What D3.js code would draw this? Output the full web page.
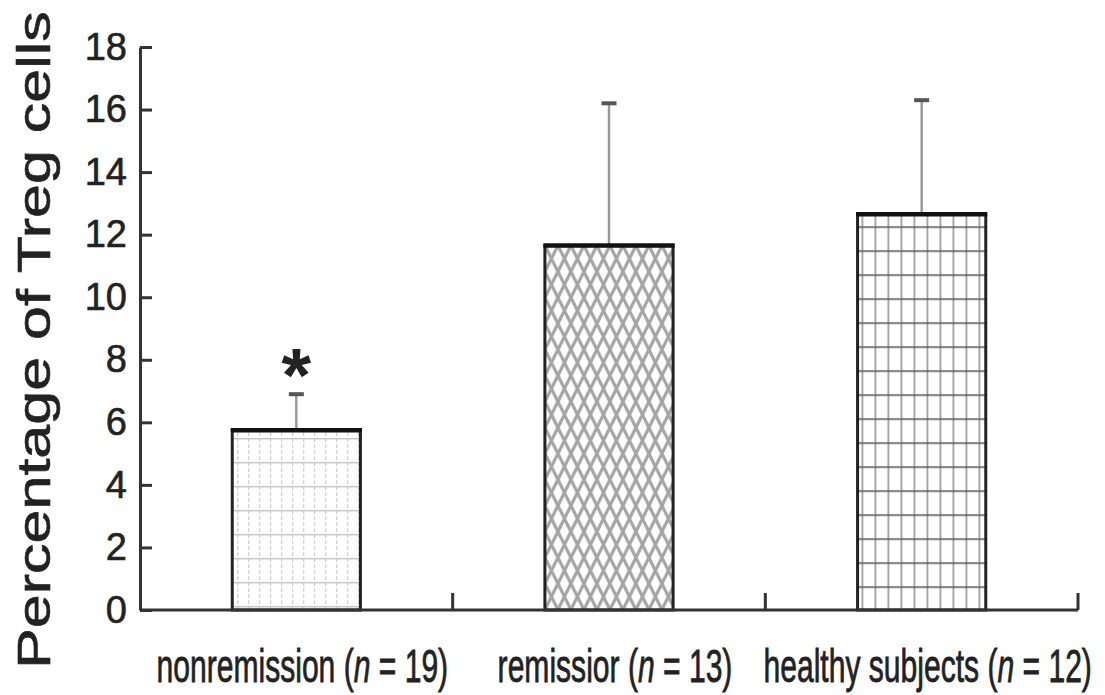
<!DOCTYPE html>
<html>
<head>
<meta charset="utf-8">
<script src="https://cdn.jsdelivr.net/npm/d3@7"></script>
<style>
  body { margin: 0; background: #fff; }
  text { font-family: "Liberation Sans", Arial, sans-serif; fill: #222; }
</style>
</head>
<body>
<script>
// values
const groups = ["nonremission", "remissior", "healthy subjects"];
const counts = [19, 13, 12];
const means = [5.75, 11.65, 12.65];
const sds = [1.15, 4.55, 3.65];
const marks = ["*", "", ""];
const yTicks = [0, 2, 4, 6, 8, 10, 12, 14, 16, 18];
const yLabel = "Percentage of Treg cells";

const width = 1105, height = 695;
const margin = {top: 47, right: 27, bottom: 85, left: 140};

const data = groups.map((g, i) => ({group: g, n: counts[i], mean: means[i], sd: sds[i], mark: marks[i], i}));

const x = d3.scaleBand(groups, [margin.left, width - margin.right])
    .paddingInner(0.59)
    .paddingOuter(0.295);
const y = d3.scaleLinear([0, 18], [height - margin.bottom, margin.top]);

const svg = d3.select("body").append("svg")
    .attr("width", width)
    .attr("height", height);

// fill patterns, one per bar
const defs = svg.append("defs");

const p0 = defs.append("pattern")
    .attr("id", "pat0")
    .attr("patternUnits", "userSpaceOnUse")
    .attr("width", 11).attr("height", 24)
    .attr("x", x(groups[0]) + 5).attr("y", y(means[0]) + 8);
p0.append("rect").attr("width", 11).attr("height", 24).attr("fill", "#fff");
p0.append("line").attr("x1", 0).attr("x2", 0).attr("y1", 0).attr("y2", 24)
    .attr("stroke", "#c4c4c4").attr("stroke-width", 2).attr("stroke-dasharray", "4 2");
p0.append("line").attr("x1", 0).attr("x2", 11).attr("y1", 0).attr("y2", 0)
    .attr("stroke", "#bdbdbd").attr("stroke-width", 2.5);

const p1 = defs.append("pattern")
    .attr("id", "pat1")
    .attr("patternUnits", "userSpaceOnUse")
    .attr("width", 13).attr("height", 26)
    .attr("x", x(groups[1])).attr("y", y(means[1]));
p1.append("rect").attr("width", 13).attr("height", 26).attr("fill", "#fff");
p1.append("path").attr("d", "M0,0L13,26M13,0L0,26M-6.5,13L0,26M6.5,-13L19.5,13")
    .attr("fill", "none").attr("stroke", "#a4a4a4").attr("stroke-width", 3.2);

const p2 = defs.append("pattern")
    .attr("id", "pat2")
    .attr("patternUnits", "userSpaceOnUse")
    .attr("width", 13).attr("height", 24)
    .attr("x", x(groups[2]) + 4).attr("y", y(means[2]) + 12);
p2.append("rect").attr("width", 13).attr("height", 24).attr("fill", "#fff");
p2.append("line").attr("x1", 0).attr("x2", 0).attr("y1", 0).attr("y2", 24)
    .attr("stroke", "#8c8c8c").attr("stroke-width", 3);
p2.append("line").attr("x1", 0).attr("x2", 13).attr("y1", 0).attr("y2", 0)
    .attr("stroke", "#555").attr("stroke-width", 3);

// error bars (upper only)
const err = svg.append("g");
err.selectAll("line.stem")
  .data(data)
  .join("line")
    .attr("class", "stem")
    .attr("x1", d => x(d.group) + x.bandwidth() / 2)
    .attr("x2", d => x(d.group) + x.bandwidth() / 2)
    .attr("y1", d => y(d.mean))
    .attr("y2", d => y(d.mean + d.sd))
    .attr("stroke", "#999")
    .attr("stroke-width", 2.5);
err.selectAll("line.cap")
  .data(data)
  .join("line")
    .attr("class", "cap")
    .attr("x1", d => x(d.group) + x.bandwidth() / 2 - 7.5)
    .attr("x2", d => x(d.group) + x.bandwidth() / 2 + 7.5)
    .attr("y1", d => y(d.mean + d.sd))
    .attr("y2", d => y(d.mean + d.sd))
    .attr("stroke", "#555")
    .attr("stroke-width", 4);

// bars
const bars = svg.append("g");
bars.selectAll("rect")
  .data(data)
  .join("rect")
    .attr("x", d => x(d.group))
    .attr("y", d => y(d.mean))
    .attr("width", x.bandwidth())
    .attr("height", d => y(0) - y(d.mean))
    .attr("fill", d => `url(#pat${d.i})`)
    .attr("stroke", "#222")
    .attr("stroke-width", 3);
bars.selectAll("line")
  .data(data)
  .join("line")
    .attr("x1", d => x(d.group) - 1.5)
    .attr("x2", d => x(d.group) + x.bandwidth() + 1.5)
    .attr("y1", d => y(d.mean))
    .attr("y2", d => y(d.mean))
    .attr("stroke", "#111")
    .attr("stroke-width", 4.5);

// significance mark
svg.append("g")
  .selectAll("text")
  .data(data.filter(d => d.mark))
  .join("text")
    .attr("x", d => x(d.group) + x.bandwidth() / 2)
    .attr("y", d => y(d.mean + d.sd) + 7)
    .attr("text-anchor", "middle")
    .attr("font-size", 76)
    .attr("font-weight", "bold")
    .text(d => d.mark);

// y axis, ticks pointing inward
svg.append("g")
    .attr("transform", `translate(${margin.left},0)`)
    .call(d3.axisLeft(y).tickValues(yTicks).tickSizeInner(-12).tickSizeOuter(0).tickPadding(13))
    .call(g => g.select(".domain").attr("stroke", "#333").attr("stroke-width", 3))
    .call(g => g.selectAll(".tick line").attr("stroke", "#333").attr("stroke-width", 3))
    .call(g => g.selectAll(".tick text")
        .attr("font-family", "Liberation Sans, Arial, sans-serif")
        .attr("font-size", 38)
        .attr("fill", "#222")
        .attr("stroke", "#222")
        .attr("stroke-width", 0.6));

// x axis: baseline with upward ticks at the group boundaries
const [x0, x1] = x.range();
const bounds = d3.range(1, groups.length + 1).map(k => x0 + x.step() * k);
const xa = svg.append("g");
xa.append("path")
    .attr("d", `M${x0},${y(0)}H${x1}`)
    .attr("stroke", "#333").attr("stroke-width", 3).attr("fill", "none");
xa.selectAll("line")
  .data(bounds)
  .join("line")
    .attr("x1", d => d).attr("x2", d => d)
    .attr("y1", y(0)).attr("y2", y(0) - 17)
    .attr("stroke", "#333").attr("stroke-width", 3);

// category labels, narrow type
const lab = xa.selectAll("text")
  .data(data)
  .join("text")
    .attr("transform", d => `translate(${x(d.group) + x.bandwidth() / 2 + 6},${height - 13}) scale(0.64,1)`)
    .attr("text-anchor", "middle")
    .attr("font-size", 47)
    .attr("stroke", "#222")
    .attr("stroke-width", 0.8);
lab.append("tspan").text(d => d.group + " (");
lab.append("tspan").attr("font-style", "italic").text("n");
lab.append("tspan").text(d => " = " + d.n + ")");

// y title, drawn tall and narrow like the figure
svg.append("text")
    .attr("transform", `translate(50,340) scale(0.75,1) rotate(-90)`)
    .attr("text-anchor", "middle")
    .attr("font-size", 61)
    .attr("stroke", "#222")
    .attr("stroke-width", 0.8)
    .text(yLabel);
</script>
</body>
</html>
